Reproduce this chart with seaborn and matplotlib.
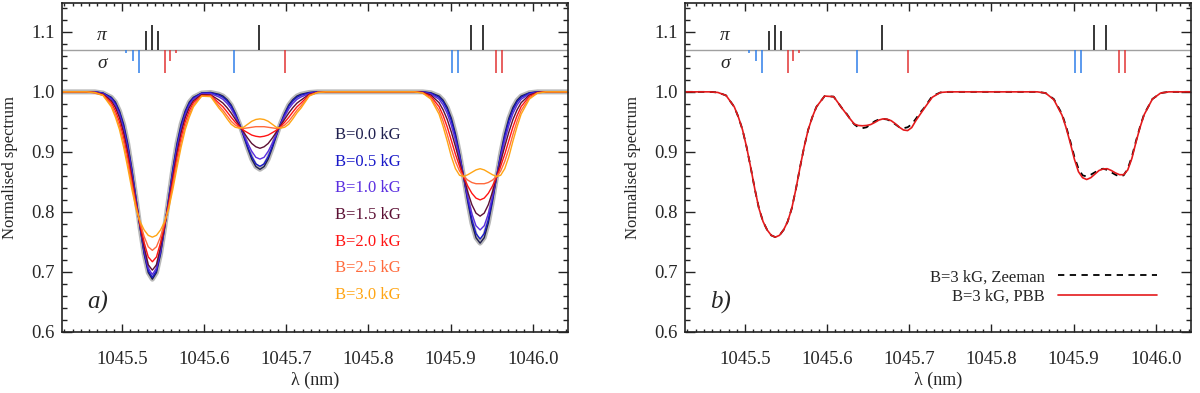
import numpy as np
import pandas as pd
import matplotlib
matplotlib.use("Agg")
import matplotlib.pyplot as plt
from matplotlib.ticker import MultipleLocator, FormatStrFormatter
from matplotlib.lines import Line2D
import seaborn as sns

# wavelength grid (nm) shared by all the curves
wl = [1045.400, 1045.440, 1045.457,
      1045.467, 1045.477, 1045.487, 1045.492, 1045.497, 1045.502, 1045.507, 1045.512, 1045.517,
      1045.522, 1045.527, 1045.532, 1045.537, 1045.542, 1045.547, 1045.552, 1045.557, 1045.562,
      1045.567, 1045.572, 1045.577, 1045.582, 1045.587,
      1045.597, 1045.602,
      1045.608, 1045.618, 1045.623, 1045.628, 1045.633, 1045.638, 1045.643, 1045.648, 1045.653,
      1045.658, 1045.663, 1045.668, 1045.673, 1045.678, 1045.683, 1045.688, 1045.693, 1045.698,
      1045.703, 1045.708, 1045.713, 1045.718, 1045.728, 1045.738,
      1045.748, 1045.800, 1045.856,
      1045.866, 1045.876, 1045.886, 1045.891, 1045.896, 1045.901, 1045.906, 1045.911, 1045.916,
      1045.921, 1045.926, 1045.931, 1045.936, 1045.941, 1045.946, 1045.951, 1045.956, 1045.961,
      1045.966, 1045.971, 1045.976, 1045.981, 1045.986, 1045.996, 1046.006,
      1046.016, 1046.060]

# normalised flux, one list per field strength (panel a)
flux_b00 = [1.000, 1.000, 1.000,
            1.000, 0.998, 0.991, 0.983, 0.968, 0.946, 0.914, 0.872, 0.824, 0.774, 0.730, 0.699, 0.688,
            0.699, 0.730, 0.774, 0.824, 0.872, 0.914, 0.946, 0.968, 0.983, 0.991,
            0.998, 0.9985,
            0.999, 0.996, 0.993, 0.987, 0.978, 0.964, 0.947, 0.927, 0.9065, 0.888, 0.8755, 0.871,
            0.8755, 0.888, 0.9065, 0.927, 0.947, 0.964, 0.978, 0.987, 0.993, 0.996, 0.999, 1.000,
            1.000, 1.000, 1.000,
            1.000, 0.9985, 0.993, 0.986, 0.974, 0.956, 0.930, 0.897, 0.858, 0.817, 0.7815, 0.757, 0.748,
            0.757, 0.7815, 0.817, 0.858, 0.897, 0.930, 0.956, 0.974, 0.986, 0.993, 0.9985, 1.000,
            1.000, 1.000]
flux_b05 = [1.000, 1.000, 1.000,
            1.000, 0.998, 0.990, 0.981, 0.966, 0.943, 0.911, 0.870, 0.823, 0.775, 0.732, 0.702, 0.691,
            0.702, 0.732, 0.775, 0.823, 0.870, 0.911, 0.943, 0.966, 0.981, 0.990,
            0.998, 0.9983,
            0.9985, 0.9946, 0.991, 0.985, 0.976, 0.9626, 0.9465, 0.928, 0.909, 0.892, 0.880, 0.876,
            0.880, 0.892, 0.909, 0.928, 0.9465, 0.9626, 0.976, 0.985, 0.991, 0.9946, 0.9985, 1.000,
            1.000, 1.000, 1.000,
            1.000, 0.998, 0.991, 0.9834, 0.9706, 0.952, 0.9265, 0.895, 0.858, 0.820, 0.787, 0.764, 0.755,
            0.764, 0.787, 0.820, 0.858, 0.895, 0.9265, 0.952, 0.9706, 0.9834, 0.991, 0.998, 1.000,
            1.000, 1.000]
flux_b10 = [1.000, 1.000, 1.000,
            1.000, 0.997, 0.988, 0.978, 0.962, 0.938, 0.906, 0.865, 0.820, 0.776, 0.736, 0.706, 0.696,
            0.706, 0.736, 0.776, 0.820, 0.865, 0.906, 0.938, 0.962, 0.978, 0.988,
            0.997, 0.9972,
            0.9974, 0.9914, 0.9874, 0.9806, 0.9716, 0.9594, 0.9455, 0.930, 0.9145, 0.901, 0.891, 0.888,
            0.891, 0.901, 0.9145, 0.930, 0.9455, 0.9594, 0.9716, 0.9806, 0.9874, 0.9914, 0.9974, 1.000,
            1.000, 1.000, 1.000,
            0.9996, 0.9966, 0.9876, 0.978, 0.964, 0.9445, 0.9196, 0.8905, 0.858, 0.825, 0.797, 0.777, 0.770,
            0.777, 0.797, 0.825, 0.858, 0.8905, 0.9196, 0.9445, 0.964, 0.978, 0.9876, 0.9966, 0.9996,
            1.000, 1.000]
flux_b15 = [1.000, 1.000, 1.000,
            0.999, 0.996, 0.985, 0.974, 0.957, 0.932, 0.899, 0.859, 0.817, 0.777, 0.741, 0.712, 0.703,
            0.712, 0.741, 0.777, 0.817, 0.859, 0.899, 0.932, 0.957, 0.974, 0.985,
            0.9955, 0.9953,
            0.995, 0.9863, 0.9812, 0.9736, 0.9646, 0.9543, 0.944, 0.933, 0.923, 0.914, 0.9085, 0.906,
            0.9085, 0.914, 0.923, 0.933, 0.944, 0.9543, 0.9646, 0.9736, 0.9812, 0.9863, 0.996, 0.9995,
            1.000, 1.000, 1.000,
            0.9993, 0.9947, 0.982, 0.970, 0.954, 0.933, 0.909, 0.884, 0.858, 0.833, 0.812, 0.798, 0.793,
            0.798, 0.812, 0.833, 0.858, 0.884, 0.909, 0.933, 0.954, 0.970, 0.982, 0.9947, 0.9993,
            1.000, 1.000]
flux_b20 = [1.000, 1.000, 1.000,
            0.999, 0.995, 0.982, 0.9685, 0.950, 0.924, 0.891, 0.852, 0.814, 0.779, 0.749, 0.725, 0.717,
            0.725, 0.749, 0.779, 0.814, 0.852, 0.891, 0.924, 0.950, 0.9685, 0.982,
            0.994, 0.994,
            0.994, 0.9813, 0.975, 0.9665, 0.9575, 0.9493, 0.942, 0.936, 0.932, 0.928, 0.926, 0.925,
            0.926, 0.928, 0.932, 0.936, 0.942, 0.9493, 0.9575, 0.9665, 0.975, 0.9813, 0.995, 0.999,
            1.000, 1.000, 1.000,
            0.9988, 0.9924, 0.9756, 0.9605, 0.9415, 0.919, 0.896, 0.876, 0.858, 0.843, 0.831, 0.823, 0.820,
            0.823, 0.831, 0.843, 0.858, 0.876, 0.896, 0.919, 0.9415, 0.9605, 0.9756, 0.9924, 0.9988,
            1.000, 1.000]
flux_b25 = [1.000, 1.000, 1.000,
            0.998, 0.994, 0.978, 0.963, 0.943, 0.916, 0.882, 0.845, 0.810, 0.782, 0.759, 0.742, 0.736,
            0.742, 0.759, 0.782, 0.810, 0.845, 0.882, 0.916, 0.943, 0.963, 0.978,
            0.993, 0.9925,
            0.993, 0.9766, 0.9693, 0.960, 0.951, 0.9446, 0.9407, 0.939, 0.940, 0.941, 0.942, 0.942,
            0.942, 0.941, 0.940, 0.939, 0.9407, 0.9446, 0.951, 0.960, 0.9693, 0.9766, 0.994, 0.999,
            1.000, 1.000, 1.000,
            0.9984, 0.990, 0.969, 0.951, 0.929, 0.905, 0.884, 0.868, 0.859, 0.853, 0.849, 0.847, 0.847,
            0.847, 0.849, 0.853, 0.859, 0.868, 0.884, 0.905, 0.929, 0.951, 0.969, 0.990, 0.9984,
            1.000, 1.000]
flux_b30 = [1.000, 1.000, 1.000,
            0.999, 0.994, 0.975, 0.958, 0.937, 0.908, 0.874, 0.838, 0.806, 0.784, 0.770, 0.761, 0.758,
            0.761, 0.770, 0.784, 0.806, 0.838, 0.874, 0.908, 0.937, 0.958, 0.975,
            0.993, 0.9925,
            0.992, 0.973, 0.965, 0.955, 0.946, 0.941, 0.9395, 0.941, 0.946, 0.951, 0.954, 0.955,
            0.954, 0.951, 0.946, 0.941, 0.9395, 0.941, 0.946, 0.955, 0.965, 0.973, 0.993, 0.999,
            1.000, 1.000, 1.000,
            0.998, 0.988, 0.963, 0.942, 0.918, 0.892, 0.872, 0.861, 0.859, 0.862, 0.866, 0.870, 0.872,
            0.870, 0.866, 0.862, 0.859, 0.861, 0.872, 0.892, 0.918, 0.942, 0.963, 0.988, 0.998,
            1.000, 1.000]

# panel b: 3 kG, Zeeman (same as panel a top curve) and Paschen-Back
flux_zeeman = flux_b30
flux_pbb = [1.000, 1.000, 1.000,
            0.999, 0.994, 0.975, 0.958, 0.937, 0.908, 0.874, 0.838, 0.806, 0.784, 0.770, 0.761, 0.758,
            0.761, 0.770, 0.784, 0.806, 0.838, 0.874, 0.908, 0.937, 0.958, 0.975,
            0.993, 0.9925,
            0.992, 0.973, 0.964, 0.955, 0.9465, 0.944, 0.9435, 0.944, 0.9455, 0.949, 0.953, 0.955,
            0.9545, 0.952, 0.947, 0.941, 0.9365, 0.9355, 0.9405, 0.952, 0.962, 0.972, 0.991, 0.999,
            1.000, 1.000, 1.000,
            0.998, 0.987, 0.961, 0.940, 0.915, 0.888, 0.867, 0.857, 0.854, 0.857, 0.863, 0.869, 0.8715,
            0.872, 0.869, 0.865, 0.862, 0.862, 0.870, 0.889, 0.916, 0.941, 0.962, 0.988, 0.998,
            1.000, 1.000]

fields = ["B=0.0 kG", "B=0.5 kG", "B=1.0 kG", "B=1.5 kG", "B=2.0 kG", "B=2.5 kG", "B=3.0 kG"]
field_colors = ["#20204f", "#1818c8", "#5a2ee0", "#5c1034", "#ff1414", "#ff6a3c", "#ffa514"]

# Zeeman components drawn as sticks at the top
pi_wl = [1045.529, 1045.5365, 1045.544, 1045.667, 1045.9246, 1045.940]
pi_len = [0.031, 0.041, 0.031, 0.041, 0.041, 0.041]
sig_blue_wl = [1045.505, 1045.513, 1045.521, 1045.6365, 1045.902, 1045.909]
sig_blue_len = [0.005, 0.019, 0.039, 0.039, 0.039, 0.039]
sig_red_wl = [1045.552, 1045.559, 1045.566, 1045.698, 1045.955, 1045.963]
sig_red_len = [0.039, 0.019, 0.005, 0.039, 0.039, 0.039]
stick_base = 1.07

curves = [flux_b00, flux_b05, flux_b10, flux_b15, flux_b20, flux_b25, flux_b30]

sns.set_style("ticks")
plt.rcParams["font.family"] = ["Liberation Serif", "DejaVu Serif"]
plt.rcParams["axes.linewidth"] = 1.2
plt.rcParams["axes.edgecolor"] = "#222222"

fig = plt.figure(figsize=(12, 3.93), dpi=100)
ax_a = fig.add_axes([62 / 1200, 61 / 393, 506 / 1200, 329 / 393])
ax_b = fig.add_axes([685 / 1200, 61 / 393, 506 / 1200, 329 / 393])


def sticks(ax):
    ax.axhline(stick_base, color="#a0a0a0", lw=1.0, zorder=1)
    ax.vlines(pi_wl, stick_base, np.add(stick_base, pi_len), color="black", lw=1.1)
    ax.vlines(sig_blue_wl, np.subtract(stick_base, sig_blue_len), stick_base, color="#2f7fea", lw=1.1)
    ax.vlines(sig_red_wl, np.subtract(stick_base, sig_red_len), stick_base, color="#e23434", lw=1.1)
    ax.text(1045.4757, 1.094, "π", fontsize=14, fontstyle="italic", ha="center", va="center")
    ax.text(1045.4757, 1.047, "σ", fontsize=14, fontstyle="italic", ha="center", va="center")


# panel a
df_a = pd.DataFrame({"wl": wl * len(fields),
                     "flux": sum(curves, []),
                     "field": np.repeat(fields, len(wl))})
sns.lineplot(x=wl, y=flux_b00, color="#b8b8b8", lw=3.6, ax=ax_a, estimator=None, sort=False)
sns.lineplot(data=df_a, x="wl", y="flux", hue="field", palette=dict(zip(fields, field_colors)),
             lw=1.0, legend=False, ax=ax_a, estimator=None, sort=False)
sticks(ax_a)
for i, (lab, col) in enumerate(zip(fields, field_colors)):
    ax_a.text(1045.759, 0.928 - 0.0444 * i, lab, color=col, fontsize=12, ha="left", va="center")
ax_a.text(1045.470, 0.649, "a)", fontsize=18, fontstyle="italic", ha="center", va="center")

# panel b
sns.lineplot(x=wl, y=flux_zeeman, color="black", lw=1.3, linestyle=(0, (3.5, 3.0)),
             ax=ax_b, estimator=None, sort=False)
sns.lineplot(x=wl, y=flux_pbb, color="#e41a1c", lw=1.2, ax=ax_b, estimator=None, sort=False)
sticks(ax_b)
handles = [Line2D([], [], color="black", lw=1.3, linestyle=(0, (3.5, 3.0))),
           Line2D([], [], color="#e41a1c", lw=1.2)]
ax_b.legend(handles, ["B=3 kG, Zeeman", "B=3 kG, PBB"], loc="center right",
            bbox_to_anchor=(0.932, 0.137), frameon=False, markerfirst=False,
            handlelength=5.9, handletextpad=0.8, fontsize=12, labelspacing=0.2,
            borderpad=0, borderaxespad=0)
ax_b.text(1045.470, 0.649, "b)", fontsize=18, fontstyle="italic", ha="center", va="center")

for ax in (ax_a, ax_b):
    ax.set_xlim(1045.427, 1046.043)
    ax.set_ylim(0.6, 1.148)
    ax.xaxis.set_major_locator(MultipleLocator(0.1))
    ax.xaxis.set_minor_locator(MultipleLocator(0.01))
    ax.yaxis.set_major_locator(MultipleLocator(0.1))
    ax.yaxis.set_minor_locator(MultipleLocator(0.02))
    ax.xaxis.set_major_formatter(FormatStrFormatter("%.1f"))
    ax.yaxis.set_major_formatter(FormatStrFormatter("%.1f"))
    ax.tick_params(which="both", direction="in", top=True, right=True, width=1.0, color="#222222")
    ax.tick_params(axis="x", which="major", length=5.5, pad=14, labelsize=13.5)
    ax.tick_params(axis="x", which="minor", length=2.5)
    ax.tick_params(axis="y", which="major", length=7, pad=5, labelsize=13.5)
    ax.tick_params(axis="y", which="minor", length=3.5)
    ax.set_xlabel("λ (nm)", fontsize=13, labelpad=2)
    ax.set_ylabel("Normalised spectrum", fontsize=12, labelpad=10)

fig.savefig("out.png", dpi=100)
